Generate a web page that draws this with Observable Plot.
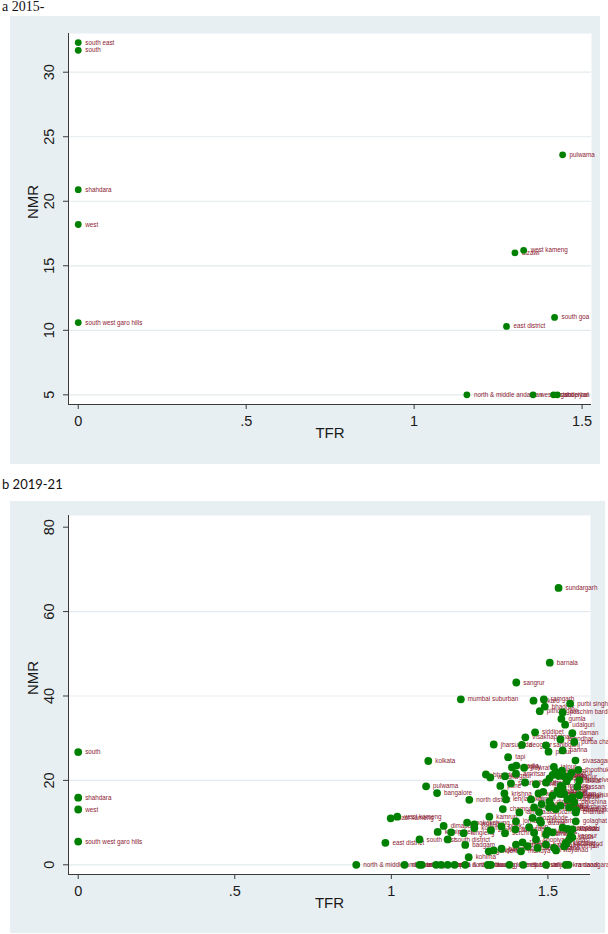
<!DOCTYPE html>
<html>
<head>
<meta charset="utf-8">
<script src="https://cdn.jsdelivr.net/npm/d3@7"></script>
<script src="https://cdn.jsdelivr.net/npm/@observablehq/plot@0.6"></script>
<style>
  body { margin: 0; background: #ffffff; }
  #page { position: relative; width: 608px; height: 934px; overflow: hidden; }
  .ttl { position: absolute; left: 2px; color: #111; white-space: nowrap; }
  #ta { top: -1px; font-family: "Liberation Serif", "DejaVu Serif", serif; font-size: 14px; }
  #tb { top: 476px; font-family: Lato, "Open Sans", sans-serif; font-size: 13px; }
  #pa { position: absolute; left: 10px; top: 16px; }
  #pb { position: absolute; left: 10px; top: 501px; }
</style>
</head>
<body>
<div id="page">
  <div class="ttl" id="ta">a 2015-</div>
  <div id="pa"></div>
  <div class="ttl" id="tb">b 2019-21</div>
  <div id="pb"></div>
</div>
<script>
// ---- Panel a: districts, NFHS 2015-16 ----
const districtsA = [
  "south east", "south", "shahdara", "west", "south west garo hills",
  "pulwama", "aizawl", "west kameng", "south goa", "east district",
  "north & middle andaman", "west district", "ganderbal", "shopiyan"
];
const tfrA = [0, 0, 0, 0, 0, 1.442, 1.300, 1.326, 1.418, 1.275, 1.157, 1.354, 1.415, 1.426];
const nmrA = [32.3, 31.7, 20.9, 18.2, 10.6, 23.6, 16.0, 16.2, 11.0, 10.3, 5.0, 5.0, 5.0, 5.0];

// ---- Panel b: districts, NFHS 2019-21 ----
const districtsB = [
  "south", "shahdara", "west", "south west garo hills", "sundargarh",
  "barnala", "sangrur", "mumbai suburban", "bokaro", "ramgarh",
  "bhadrak", "pithoragarh", "purbi singhbhum", "paschim bardhaman", "gumla",
  "udalguri", "siddipet", "daman", "visakhapatnam", "jalandhar",
  "purba champaran", "jharsuguda", "deoghar", "sahibganj", "pakur",
  "panna", "tapi", "kolkata", "sivasagar", "hooghly",
  "nadia", "howrah", "jajpur", "bhandara", "wardha",
  "nagpur", "amritsar", "ludhiana", "patiala", "moga",
  "firozpur", "pune", "satara", "kolhapur", "sangli",
  "thane", "mysore", "hassan", "pulwama", "bangalore",
  "north district", "krishna", "leh(ladakh)", "guntur", "west godavari",
  "east godavari", "south andaman", "kodagu", "udupi", "dakshina kannada",
  "champawat", "almora", "nainital", "dehradun", "tehri garhwal",
  "bageshwar", "chamoli", "east kameng", "west kameng", "kamrup",
  "jorhat", "dibrugarh", "golaghat", "dimapur", "mokokchung",
  "wokha", "zunheboto", "phek", "tuensang", "mon",
  "aizawl", "lunglei", "champhai", "kolasib", "kiphire",
  "peren", "longleng", "serchhip", "south east", "south district",
  "east district", "badgam", "kohima", "ganderbal", "kupwara",
  "baramulla", "anantnag", "mandya", "kulgam", "shopiyan",
  "bandipora", "kathua", "samba", "udhampur", "reasi",
  "doda", "kishtwar", "ramban", "poonch", "rajouri",
  "north & middle andaman", "nicobars", "lakshadweep", "mahe", "yanam",
  "karaikal", "dadra & nagar haveli", "diu", "north goa", "tawang",
  "kurung kumey", "lower subansiri", "dibang valley", "anjaw", "kra daadi",
  "ramanagara", "alappuzha", "kottayam", "ernakulam", "thrissur",
  "palakkad", "kannur", "kasaragod", "wayanad", "kollam",
  "kozhikode", "nilgiris", "coimbatore", "erode", "salem",
  "namakkal", "karur", "madurai", "theni", "dindigul",
  "tiruppur", "sivaganga", "virudhunagar", "tirunelveli", "thoothukudi",
  "kanniyakumari"
];
const tfrB = [
  0, 0, 0, 0, 1.534,
  1.506, 1.399, 1.222, 1.454, 1.487,
  1.490, 1.474, 1.571, 1.547, 1.543,
  1.555, 1.459, 1.578, 1.428, 1.540,
  1.584, 1.327, 1.417, 1.494, 1.502,
  1.547, 1.373, 1.118, 1.588, 1.385,
  1.399, 1.424, 1.519, 1.302, 1.316,
  1.363, 1.398, 1.515, 1.534, 1.552,
  1.568, 1.348, 1.382, 1.427, 1.462,
  1.494, 1.541, 1.594, 1.111, 1.146,
  1.249, 1.361, 1.366, 1.446, 1.470,
  1.485, 1.515, 1.547, 1.562, 1.584,
  1.356, 1.409, 1.456, 1.504, 1.525,
  1.568, 1.589, 0.998, 1.019, 1.313,
  1.398, 1.474, 1.589, 1.167, 1.242,
  1.265, 1.318, 1.352, 1.396, 1.440,
  1.478, 1.499, 1.547, 1.578, 1.148,
  1.191, 1.231, 1.363, 1.090, 1.180,
  0.981, 1.236, 1.247, 1.311, 1.327,
  1.352, 1.398, 1.414, 1.435, 1.462,
  1.467, 1.494, 1.520, 1.552, 1.568,
  1.578, 1.557, 1.494, 1.456, 1.419,
  0.888, 1.042, 1.090, 1.097, 1.143,
  1.159, 1.180, 1.202, 1.236, 1.308,
  1.318, 1.377, 1.421, 1.494, 1.557,
  1.566, 1.472, 1.510, 1.538, 1.578,
  1.563, 1.573, 1.559, 1.526, 1.265,
  1.451, 1.515, 1.505, 1.525, 1.545,
  1.560, 1.575, 1.530, 1.552, 1.505,
  1.540, 1.480, 1.600, 1.600, 1.597,
  1.590
];
const nmrB = [
  26.7, 15.9, 13.1, 5.5, 65.6,
  47.9, 43.2, 39.2, 38.9, 39.2,
  37.5, 36.4, 38.2, 36.1, 34.6,
  33.2, 31.4, 31.2, 30.2, 29.7,
  29.1, 28.5, 28.4, 28.3, 26.8,
  27.1, 25.5, 24.6, 24.7, 23.1,
  23.5, 23.0, 23.2, 21.4, 20.7,
  21.0, 21.6, 21.3, 21.1, 21.0,
  20.8, 18.7, 19.3, 19.5, 19.1,
  19.5, 18.7, 18.5, 18.6, 17.0,
  15.4, 16.9, 15.5, 15.5, 16.9,
  17.3, 16.4, 18.3, 15.5, 14.8,
  13.2, 12.4, 13.6, 13.6, 13.2,
  13.6, 12.4, 11.0, 11.4, 11.4,
  10.3, 10.5, 10.3, 9.2, 10.0,
  9.6, 8.2, 9.1, 8.4, 8.9,
  10.0, 8.1, 8.8, 8.4, 7.8,
  7.7, 7.5, 7.5, 6.0, 6.0,
  5.2, 4.7, 1.8, 3.2, 3.4,
  3.8, 4.8, 3.2, 4.4, 6.0,
  4.0, 4.8, 4.0, 4.4, 6.0,
  6.5, 5.2, 7.2, 7.6, 5.3,
  0, 0, 0, 0, 0,
  0, 0, 0, 0, 0,
  0, 0, 0, 0, 0,
  0, 12.5, 14.1, 16.8, 16.0,
  8.5, 6.9, 5.0, 3.4, 8.7,
  11.1, 7.7, 20.5, 22.0, 22.3,
  19.8, 21.8, 17.5, 16.8, 15.0,
  14.0, 14.4, 16.5, 20.0, 22.5,
  13.0
];

// ---- Axis ticks ----
const xTicks = [0, 0.5, 1, 1.5];
const yTicksA = [5, 10, 15, 20, 25, 30];
const yTicksB = [0, 20, 40, 60, 80];
const gridTicksB = [0, 20, 40, 60];

// Colours of the graph scheme
const BG = "#e8eff2";
const GRID = "#e3ebee";
const AXIS = "#3a3a3a";
const GREEN = "#008000";
const MAROON = "#8b2232";

const fmtTfr = d => (d === 0 ? "0" : String(d).replace(/^0\./, "."));

function panel({names, tfr, nmr, width, height, margins, xDomain, yDomain, yTicks, gridTicks, r, labelSize}) {
  const data = names.map((name, i) => ({name, tfr: tfr[i], nmr: nmr[i]}));
  return Plot.plot({
    width,
    height,
    ...margins,
    style: {
      background: BG,
      color: "#1a1a1a",
      fontFamily: "'Liberation Sans', Arial, sans-serif",
      overflow: "visible"
    },
    x: {domain: xDomain},
    y: {domain: yDomain},
    marks: [
      Plot.frame({fill: "white", stroke: null}),
      Plot.gridY(gridTicks, {stroke: GRID, strokeOpacity: 1, strokeWidth: 1.2}),
      Plot.ruleX([xDomain[0]], {stroke: AXIS}),
      Plot.ruleY([yDomain[0]], {stroke: AXIS}),
      Plot.axisY(yTicks, {
        tickSize: 5, tickRotate: -90, tickPadding: 10,
        fontSize: 14.5, label: null, stroke: AXIS
      }),
      Plot.axisX(xTicks, {
        tickSize: 5, tickPadding: 6, tickFormat: fmtTfr,
        fontSize: 14.5, label: null, stroke: AXIS
      }),
      Plot.text(["NMR"], {text: d => d, frameAnchor: "left", dx: -35, rotate: -90, fontSize: 15}),
      Plot.text(["TFR"], {text: d => d, frameAnchor: "bottom", dy: 33, fontSize: 15}),
      Plot.text(data, {
        x: "tfr", y: "nmr", text: "name", textAnchor: "start",
        dx: 7, fill: MAROON, fontSize: labelSize
      }),
      Plot.dot(data, {x: "tfr", y: "nmr", r, fill: GREEN, stroke: null})
    ]
  });
}

document.getElementById("pa").append(panel({
  names: districtsA, tfr: tfrA, nmr: nmrA,
  width: 590, height: 448,
  margins: {marginLeft: 58, marginRight: 9, marginTop: 17, marginBottom: 60},
  xDomain: [-0.029, 1.528], yDomain: [4.25, 33.0],
  yTicks: yTicksA, gridTicks: yTicksA, r: 3.4, labelSize: 6.3
}));

document.getElementById("pb").append(panel({
  names: districtsB, tfr: tfrB, nmr: nmrB,
  width: 595, height: 432,
  margins: {marginLeft: 58, marginRight: 15, marginTop: 14, marginBottom: 59},
  xDomain: [-0.031, 1.636], yDomain: [-2.3, 82.77],
  yTicks: yTicksB, gridTicks: gridTicksB, r: 3.9, labelSize: 6.3
}));
</script>
</body>
</html>
